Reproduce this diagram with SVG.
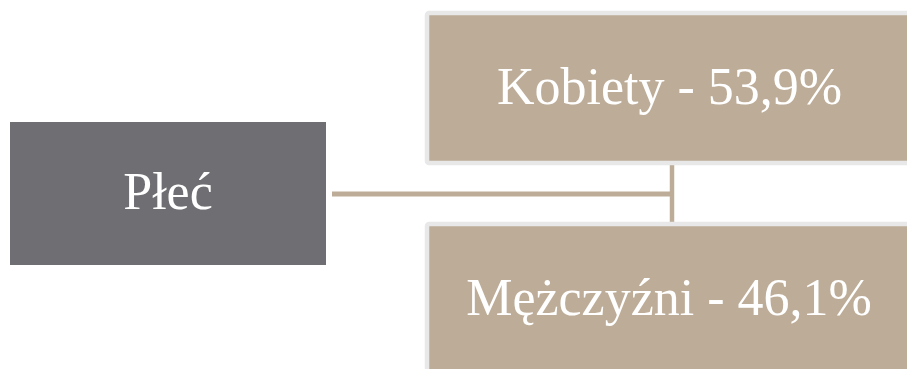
<svg xmlns="http://www.w3.org/2000/svg" width="907" height="369" viewBox="0 0 907 369">
<style>
.lbl{font-family:"Liberation Serif","Times New Roman",serif;font-size:52px;fill:#ffffff;text-anchor:middle}
.tan{fill:#bdac97;stroke:#e8e8e8;stroke-width:4.5}
.conn{stroke:#bdac97;fill:none}
</style>
<rect width="907" height="369" fill="#ffffff"/>
<g id="connectors">
<line class="conn" x1="332" y1="194" x2="672" y2="194" stroke-width="5"/>
<line class="conn" x1="672" y1="165" x2="672" y2="222" stroke-width="4.5"/>
</g>
<g id="node-plec">
<rect x="10" y="122" width="316" height="143" fill="#6f6e73"/>
<text class="lbl" x="168" y="209">Płeć</text>
</g>
<g id="node-kobiety">
<rect class="tan" x="427" y="13" width="485" height="150" rx="2"/>
<text class="lbl" x="669.5" y="104">Kobiety - 53,9%</text>
</g>
<g id="node-mezczyzni">
<rect class="tan" x="427" y="224" width="485" height="150" rx="2"/>
<text class="lbl" x="669" y="315">Mężczyźni - 46,1%</text>
</g>
</svg>
